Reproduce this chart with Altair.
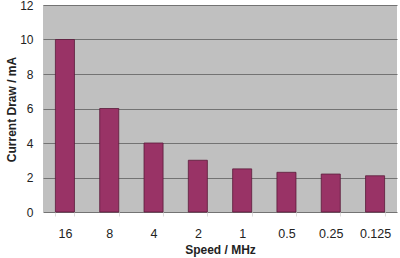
import altair as alt
import pandas as pd

speeds = ["16", "8", "4", "2", "1", "0.5", "0.25", "0.125"]
current = [10, 6, 4, 3, 2.5, 2.3, 2.2, 2.1]

df = pd.DataFrame({"speed": speeds, "current": current})

chart = alt.Chart(df).mark_bar(
    color="#993366", stroke="#5a1a3a", strokeWidth=0.8
).encode(
    x=alt.X("speed:N", sort=speeds, title="Speed / MHz",
            scale=alt.Scale(paddingInner=0.57, paddingOuter=0.28),
            axis=alt.Axis(labelAngle=0, labelFont="Liberation Sans", labelFontSize=12.5,
                          labelColor="#222222", labelPadding=11, ticks=True, tickBand="extent",
                          tickColor="#dddddd", tickSize=4, domain=False,
                          titleFont="Liberation Sans", titleFontSize=12, titleFontWeight="bold",
                          titleColor="#222222", titlePadding=5, titleX=177, titleAnchor="middle")),
    y=alt.Y("current:Q", title="Current Draw / mA",
            scale=alt.Scale(domain=[0, 12], nice=False),
            axis=alt.Axis(values=[0, 2, 4, 6, 8, 10, 12], labelFont="Liberation Sans",
                          labelFontSize=12, labelColor="#222222", labelPadding=10,
                          ticks=False, domain=False, gridColor="#737373", gridWidth=1.2,
                          titleFont="Liberation Sans", titleFontSize=12, titleFontWeight="bold",
                          titleColor="#222222", titleX=-25, titleY=104, titleAngle=270,
                          titleBaseline="bottom", titleAlign="center")),
).properties(
    width=354, height=207,
    autosize=alt.AutoSizeParams(type="none"),
    padding={"left": 43, "top": 5, "right": 3, "bottom": 46},
    background="white",
).configure_view(
    fill="#c0c0c0", stroke=None
)

chart.save("out.html", embed_options={"renderer": "svg", "actions": False})
